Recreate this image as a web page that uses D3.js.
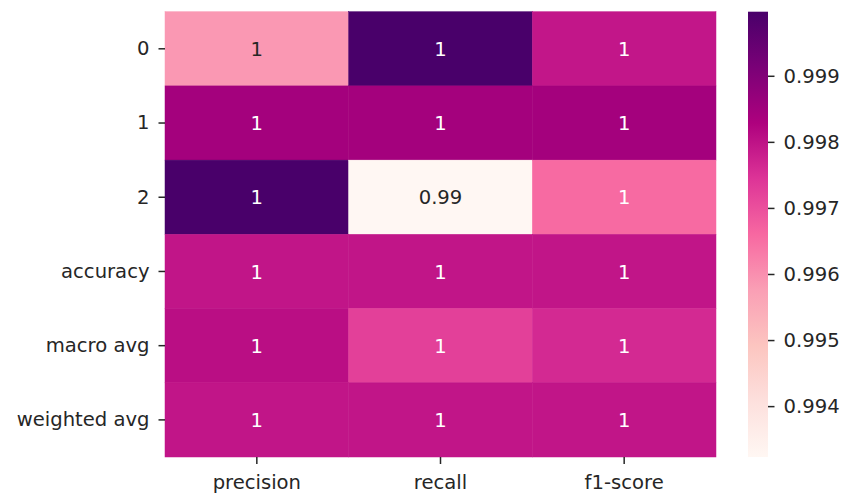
<!DOCTYPE html>
<html>
<head>
<meta charset="utf-8">
<script src="https://cdn.jsdelivr.net/npm/d3@7"></script>
<style>
  body { margin: 0; background: #fff; }
  svg { display: block; }
</style>
</head>
<body>
<div id="chart"></div>
<script>
// classification report values
const rowLabels = ["0", "1", "2", "accuracy", "macro avg", "weighted avg"];
const colLabels = ["precision", "recall", "f1-score"];
const precision = [0.99586, 0.99845, 0.99997, 0.99795, 0.99807, 0.99795];
const recall = [0.99997, 0.99845, 0.99323, 0.99795, 0.99724, 0.99795];
const f1Score = [0.99793, 0.99845, 0.99657, 0.99795, 0.99762, 0.99795];
const cbarTicks = [0.994, 0.995, 0.996, 0.997, 0.998, 0.999];

// matplotlib RdPu stops
const rdpu = ["#fff7f3", "#fde0dd", "#fcc5c0", "#fa9fb5", "#f768a1", "#dd3497", "#ae017e", "#7a0177", "#49006a"];

function renderHeatmap() {
  const width = 845, height = 496;
  const hm = { left: 165, right: 716, top: 11.7, bottom: 457 };
  const cb = { left: 748, right: 768 };
  const font = "DejaVu Sans";
  const fs = 19.6;
  const ink = "#262626";

  const cells = [];
  const series = [precision, recall, f1Score];
  rowLabels.forEach((r, i) => {
    colLabels.forEach((c, j) => {
      cells.push({ row: r, col: c, value: series[j][i] });
    });
  });

  const vmin = d3.min(cells, d => d.value);
  const vmax = d3.max(cells, d => d.value);

  const color = d3.scaleLinear()
    .domain(rdpu.map((_, i) => vmin + (vmax - vmin) * i / (rdpu.length - 1)))
    .range(rdpu)
    .interpolate(d3.interpolateRgb);

  const x = d3.scaleBand().domain(colLabels).range([hm.left, hm.right]);
  const y = d3.scaleBand().domain(rowLabels).range([hm.top, hm.bottom]);
  const cy = d3.scaleLinear().domain([vmin, vmax]).range([hm.bottom, hm.top]);

  const svg = d3.select("#chart")
    .append("svg")
    .attr("width", width)
    .attr("height", height);

  // cells
  svg.append("g")
    .selectAll("rect")
    .data(cells)
    .enter()
    .append("rect")
    .attr("x", d => x(d.col))
    .attr("y", d => y(d.row))
    .attr("width", x.bandwidth())
    .attr("height", y.bandwidth())
    .attr("fill", d => color(d.value))
    .attr("stroke", d => color(d.value))
    .attr("stroke-width", 0.5);

  // luminance like seaborn picks text colour
  function textColor(v) {
    const c = d3.rgb(color(v));
    const lin = [c.r, c.g, c.b].map(u => {
      u = u / 255;
      return u <= 0.03928 ? u / 12.92 : Math.pow((u + 0.055) / 1.055, 2.4);
    });
    const lum = 0.2126 * lin[0] + 0.7152 * lin[1] + 0.0722 * lin[2];
    return lum > 0.408 ? ink : "#ffffff";
  }

  const fmt = d3.format(".2~g");

  svg.append("g")
    .selectAll("text")
    .data(cells)
    .enter()
    .append("text")
    .attr("x", d => x(d.col) + x.bandwidth() / 2)
    .attr("y", d => y(d.row) + y.bandwidth() / 2)
    .attr("dy", "0.36em")
    .attr("text-anchor", "middle")
    .style("font-family", font)
    .style("font-size", fs + "px")
    .style("fill", d => textColor(d.value))
    .text(d => fmt(d.value));

  // x axis
  const xAxis = svg.append("g")
    .attr("transform", `translate(0,${hm.bottom})`)
    .call(d3.axisBottom(x).tickSize(7).tickPadding(11));
  xAxis.select(".domain").remove();

  // y axis
  const yAxis = svg.append("g")
    .attr("transform", `translate(${hm.left},0)`)
    .call(d3.axisLeft(y).tickSize(6.5).tickPadding(9));
  yAxis.select(".domain").remove();

  [xAxis, yAxis].forEach(g => {
    g.selectAll("line").attr("stroke", ink).attr("stroke-width", 1.5);
    g.selectAll("text")
      .style("font-family", font)
      .style("font-size", fs + "px")
      .attr("fill", ink);
  });

  // colorbar
  const defs = svg.append("defs");
  const grad = defs.append("linearGradient")
    .attr("id", "cbar")
    .attr("x1", 0).attr("y1", 1)
    .attr("x2", 0).attr("y2", 0);
  grad.selectAll("stop")
    .data(rdpu)
    .enter()
    .append("stop")
    .attr("offset", (d, i) => i / (rdpu.length - 1))
    .attr("stop-color", d => d);

  svg.append("rect")
    .attr("x", cb.left)
    .attr("y", cy(vmax))
    .attr("width", cb.right - cb.left)
    .attr("height", cy(vmin) - cy(vmax))
    .attr("fill", "url(#cbar)");

  const cAxis = svg.append("g")
    .attr("transform", `translate(${cb.right},0)`)
    .call(d3.axisRight(cy).tickValues(cbarTicks).tickFormat(d3.format(".3f")).tickSize(6.5).tickPadding(9));
  cAxis.select(".domain").remove();
  cAxis.selectAll("line").attr("stroke", ink).attr("stroke-width", 1.5);
  cAxis.selectAll("text")
    .style("font-family", font)
    .style("font-size", fs + "px")
    .attr("fill", ink);
}

renderHeatmap();
</script>
</body>
</html>
